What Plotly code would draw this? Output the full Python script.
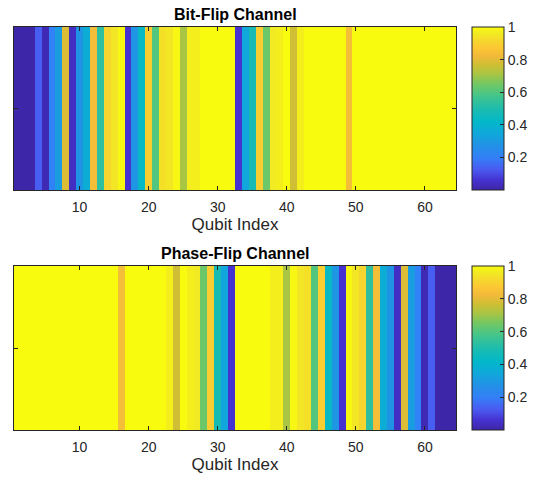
import plotly.graph_objects as go

# ---------------- data ----------------
qubit_index = list(range(1, 65))

bit_flip = [
    0.00, 0.00, 0.00, 0.13, 0.02, 0.21, 0.31, 0.79, 0.04, 0.28, 0.37, 0.84, 0.53, 0.91, 0.95, 0.99,
    0.06, 0.29, 0.43, 0.89, 0.60, 0.94, 0.95, 0.99, 0.71, 0.97, 0.97, 1.00, 1.00, 1.00, 1.00, 1.00,
    0.06, 0.34, 0.48, 0.89, 0.64, 0.96, 0.97, 1.00, 0.77, 0.97, 1.00, 1.00, 1.00, 1.00, 1.00, 1.00,
    0.84, 1.00, 1.00, 1.00, 1.00, 1.00, 1.00, 1.00, 1.00, 1.00, 1.00, 1.00, 1.00, 1.00, 1.00, 1.00,
]

phase_flip = [
    1.00, 1.00, 1.00, 1.00, 1.00, 1.00, 1.00, 1.00, 1.00, 1.00, 1.00, 1.00, 1.00, 1.00, 1.00, 0.84,
    1.00, 1.00, 1.00, 1.00, 1.00, 1.00, 0.97, 0.77, 1.00, 0.97, 0.96, 0.64, 0.89, 0.48, 0.34, 0.06,
    1.00, 1.00, 1.00, 1.00, 1.00, 0.97, 0.97, 0.71, 0.99, 0.95, 0.94, 0.60, 0.89, 0.43, 0.29, 0.06,
    0.99, 0.95, 0.91, 0.53, 0.84, 0.37, 0.28, 0.04, 0.79, 0.31, 0.21, 0.02, 0.13, 0.00, 0.00, 0.00,
]

x_ticks = [10, 20, 30, 40, 50, 60]
cbar_ticks = [0.2, 0.4, 0.6, 0.8, 1.0]
cbar_ticktext = ["0.2", "0.4", "0.6", "0.8", "1"]
titles = ["Bit-Flip Channel", "Phase-Flip Channel"]
x_label = "Qubit Index"

# parula-like colorscale
parula = [
    [0.00, "#3e26a8"], [0.06, "#4532d0"], [0.125, "#4a5af0"], [0.20, "#3380f8"],
    [0.28, "#2193e4"], [0.34, "#11a6dc"], [0.42, "#02b8c8"], [0.50, "#1ebcad"],
    [0.58, "#45c58a"], [0.65, "#72c763"], [0.71, "#a8c544"], [0.77, "#d0bf34"],
    [0.82, "#f0b93a"], [0.87, "#fcc634"], [0.92, "#f5d92c"], [0.96, "#f2ea22"],
    [1.00, "#f9fb0e"],
]

W, H = 537, 482
FONT = "Liberation Sans, Arial, Helvetica, sans-serif"
AX = "#262626"

panel_x = (14, 456)
panels_y = [(27, 190), (266, 430)]
cbar_x0, cbar_w = 472, 32

def py(p):
    return 1 - p / H

fig = go.Figure()
for i, (vals, (top, bot)) in enumerate(zip([bit_flip, phase_flip], panels_y)):
    n = "" if i == 0 else str(i + 1)
    fig.add_trace(go.Heatmap(
        z=[vals], x=qubit_index, y=[1],
        colorscale=parula, zmin=0, zmax=1,
        xaxis="x" + n, yaxis="y" + n,
        colorbar=dict(
            x=cbar_x0 / W, xanchor="left", xpad=0, ypad=0,
            y=py(top), yanchor="top", len=bot - top, lenmode="pixels",
            thickness=cbar_w, thicknessmode="pixels",
            tickvals=cbar_ticks, ticktext=cbar_ticktext,
            ticks="inside", ticklen=4, tickcolor=AX,
            outlinewidth=1, outlinecolor=AX,
            tickfont=dict(family=FONT, size=14, color=AX),
        ),
    ))
    fig.update_layout(**{
        "xaxis" + n: dict(
            domain=[panel_x[0] / W, panel_x[1] / W], anchor="y" + n,
            range=[0.5, 64.5], tickvals=x_ticks, ticks="inside", ticklen=4,
            tickcolor=AX, showline=True, linecolor=AX, linewidth=1, mirror="ticks",
            showgrid=False, zeroline=False, ticklabelstandoff=4,
            tickfont=dict(family=FONT, size=14, color=AX),
            title=dict(text=x_label, font=dict(family=FONT, size=17, color=AX), standoff=4),
        ),
        "yaxis" + n: dict(
            domain=[py(bot), py(top)], anchor="x" + n,
            range=[0.5, 1.5], tickvals=[1], showticklabels=False,
            ticks="inside", ticklen=4, tickcolor=AX,
            showline=True, linecolor=AX, linewidth=1, mirror="ticks",
            showgrid=False, zeroline=False,
        ),
    })
    fig.add_annotation(
        text="<b>" + titles[i] + "</b>", xref="paper", yref="paper",
        x=(panel_x[0] + panel_x[1]) / 2 / W, y=py(top - 2),
        xanchor="center", yanchor="bottom", showarrow=False,
        font=dict(family=FONT, size=16, color="#000000"),
    )

fig.update_layout(
    width=W, height=H, margin=dict(l=0, r=0, t=0, b=0),
    paper_bgcolor="white", plot_bgcolor="white", showlegend=False,
)
fig.write_html("out.html", config={"displayModeBar": False},
               post_script="document.body.style.margin='0';")
